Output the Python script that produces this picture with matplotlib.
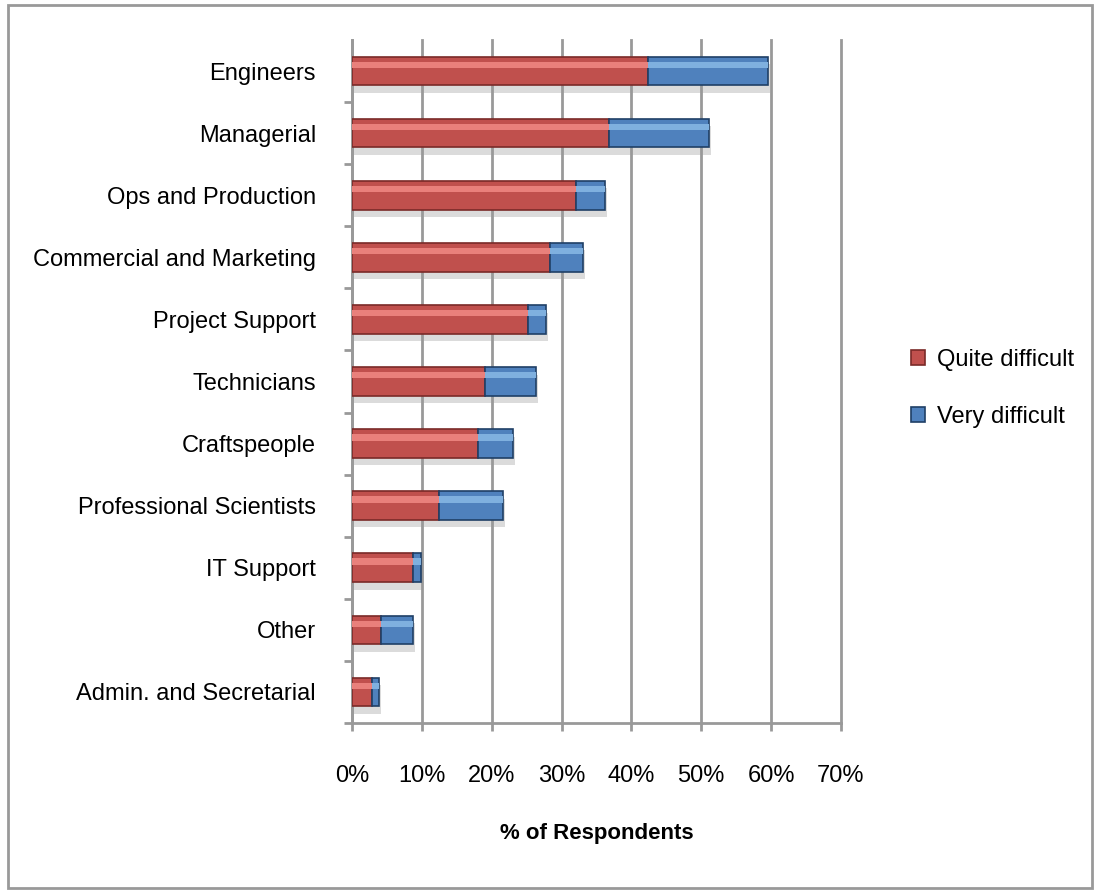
import matplotlib
matplotlib.use("Agg")
import matplotlib.pyplot as plt
import numpy as np
from matplotlib.patches import Rectangle
from matplotlib.ticker import FuncFormatter, MultipleLocator

categories = ["Engineers", "Managerial", "Ops and Production", "Commercial and Marketing",
              "Project Support", "Technicians", "Craftspeople", "Professional Scientists",
              "IT Support", "Other", "Admin. and Secretarial"]
quite_difficult = [42.4, 36.8, 32.1, 28.4, 25.2, 19.1, 18.0, 12.4, 8.7, 4.1, 2.8]
very_difficult = [17.1, 14.3, 4.1, 4.7, 2.6, 7.2, 5.1, 9.2, 1.2, 4.6, 1.1]
series_names = ["Quite difficult", "Very difficult"]

plt.rcParams['font.family'] = ['Liberation Sans Narrow', 'Liberation Sans', 'DejaVu Sans']

fig = plt.figure(figsize=(10.96, 8.92), dpi=100)
W, H = 1096, 892
ax = fig.add_axes([352 / W, 1 - 723 / H, (841 - 352) / W, (723 - 40) / H])

y = np.arange(len(categories))
q = np.array(quite_difficult)
v = np.array(very_difficult)
h = 0.46

# shadow
ax.barh(y + 0.12, q + v, height=h, left=0.3, color="#999999", alpha=0.35, zorder=2, linewidth=0)
ax.barh(y, q, height=h, color="#C0504D", edgecolor="#7A2A28", linewidth=1.2, zorder=3,
        label=series_names[0])
ax.barh(y, v, left=q, height=h, color="#4F81BD", edgecolor="#1F3F66", linewidth=1.2, zorder=3,
        label=series_names[1])
# highlights
ax.barh(y - 0.1, q, height=h * 0.22, color="#E9807B", linewidth=0, zorder=4)
ax.barh(y - 0.1, v, left=q, height=h * 0.22, color="#7FB0DF", linewidth=0, zorder=4)

ax.set_xlim(0, 70)
ax.set_ylim(len(categories) - 0.5, -0.5)
ax.xaxis.set_major_locator(MultipleLocator(10))
ax.xaxis.set_major_formatter(FuncFormatter(lambda x, p: f"{int(round(x))}%"))
ax.set_yticks(y)
ax.set_yticklabels(categories, fontsize=17)
ax.set_yticks(np.arange(1, len(categories) + 1) - 0.5, minor=True)
ax.tick_params(axis='y', which='major', length=0, pad=26)
ax.tick_params(axis='y', which='minor', length=6, color="#999999", width=2)
ax.tick_params(axis='x', which='major', length=6, color="#999999", width=2, labelsize=17, pad=24)
ax.grid(axis='x', color="#999999", linewidth=2, zorder=1)
for gl in ax.get_xgridlines():
    gl.set_clip_on(False)
ax.set_axisbelow(True)
for s in ['top', 'right']:
    ax.spines[s].set_visible(False)
for s in ['left', 'bottom']:
    ax.spines[s].set_color("#999999")
    ax.spines[s].set_linewidth(2)
ax.set_xlabel("% of Respondents", fontsize=16, fontweight='bold', labelpad=26)

leg = ax.legend(loc='center left', bbox_to_anchor=(1.1, 0.49), frameon=False, fontsize=17,
                handlelength=0.6, handleheight=0.6, labelspacing=1.5, handletextpad=0.5)

fig.patches.append(Rectangle((8 / W, 1 - 888 / H), (1092 - 8) / W, (888 - 5) / H,
                             transform=fig.transFigure, fill=False, edgecolor="#999999",
                             linewidth=2))

fig.savefig("out.png", dpi=100)
